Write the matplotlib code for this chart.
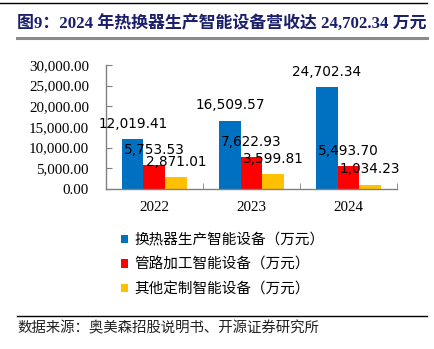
import matplotlib
matplotlib.use("Agg")
import matplotlib.pyplot as plt
import numpy as np
from matplotlib.ticker import FuncFormatter

years = ["2022", "2023", "2024"]
series_names = [
    "换热器生产智能设备（万元）",
    "管路加工智能设备（万元）",
    "其他定制智能设备（万元）",
]
heat_exchanger = [12019.41, 16509.57, 24702.34]
pipe_processing = [5753.53, 7622.93, 5493.70]
other_custom = [2871.01, 3599.81, 1034.23]
y_ticks = [0, 5000, 10000, 15000, 20000, 25000, 30000]

title = "图9：2024 年热换器生产智能设备营收达 24,702.34 万元"
source = "数据来源：奥美森招股说明书、开源证券研究所"

colors = ["#0070C0", "#FF0000", "#FFC000"]
CJK = ["Liberation Serif", "Noto Sans CJK SC", "DejaVu Sans"]
CJK_SANS = ["Noto Sans CJK SC", "DejaVu Sans"]

figure = plt.figure(figsize=(4.35, 3.49), dpi=100, facecolor="white")

# header rules and title
figure.add_artist(plt.Line2D([0.0, 0.982], [0.992, 0.992], color="black", lw=1.0))
figure.text(0.04, 0.93, title, family=CJK, fontsize=12.2, fontweight="bold",
            color="#1b1f6b", ha="left", va="center")
figure.add_artist(plt.Line2D([0.04, 0.982], [0.891, 0.891], color="#8c8c8c", lw=2.2))

axis = figure.add_axes([0.243, 0.4585, 0.670, 0.3553])
x = np.arange(len(years))
width = 0.222
all_series = [heat_exchanger, pipe_processing, other_custom]
for index, (values, name, color) in enumerate(zip(all_series, series_names, colors)):
    bars = axis.bar(x + (index - 1) * width, values, width, color=color, label=name)
    for bar, value in zip(bars, values):
        axis.annotate(
            f"{value:,.2f}",
            (bar.get_x() + bar.get_width() / 2, value),
            xytext=(0, 6),
            textcoords="offset points",
            ha="center",
            va="bottom",
            fontsize=9.8,
            family="DejaVu Sans",
            color="black",
        )

axis.set_xlim(-0.5, 2.5)
axis.set_ylim(0, 30000)
axis.set_yticks(y_ticks)
axis.yaxis.set_major_formatter(FuncFormatter(lambda v, _: f"{v:,.2f}"))
axis.set_xticks(x, years)
axis.set_xticks([-0.5, 0.5, 1.5, 2.5], minor=True)
axis.tick_params(axis="x", which="major", length=0, pad=9)
axis.tick_params(axis="x", which="minor", length=4, direction="in", color="#808080")
axis.tick_params(axis="y", length=4, direction="in", color="#808080", pad=12)
for label in axis.get_xticklabels() + axis.get_yticklabels():
    label.set_family("Liberation Serif")
    label.set_fontsize(10.8)
    label.set_color("black")
for side in ["top", "right"]:
    axis.spines[side].set_visible(False)
for side in ["left", "bottom"]:
    axis.spines[side].set_color("#808080")
    axis.spines[side].set_linewidth(1.0)

legend = figure.legend(
    loc="upper left",
    bbox_to_anchor=(0.265, 0.348),
    frameon=False,
    prop={"family": CJK_SANS, "size": 10.5},
    handlelength=0.5,
    handleheight=0.5,
    handletextpad=0.4,
    labelspacing=0.7,
    borderaxespad=0,
)

figure.add_artist(plt.Line2D([0.04, 0.982], [0.095, 0.095], color="black", lw=1.0))
figure.text(0.04, 0.06, source, family=CJK_SANS, fontsize=10.4,
            color="#222222", ha="left", va="center")

figure.savefig("out.png", dpi=100, facecolor="white")
